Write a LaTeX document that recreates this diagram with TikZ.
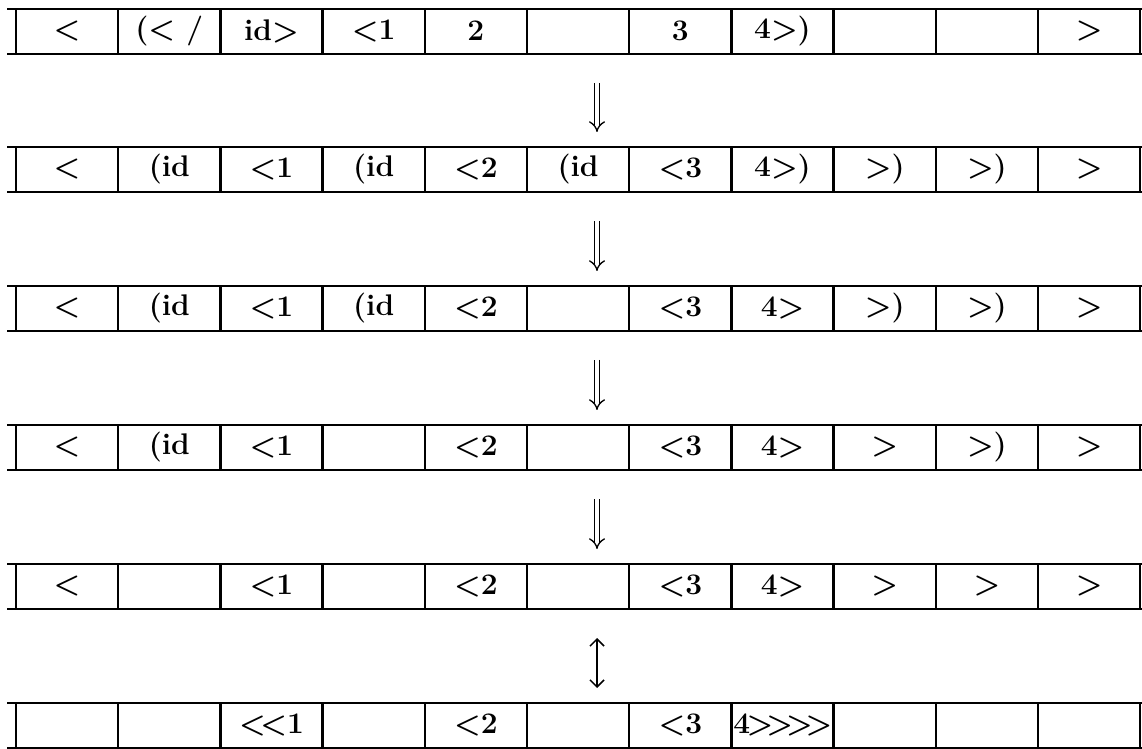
\documentclass[tikz,border=0pt]{standalone}
\usepackage{tikz}
\usetikzlibrary{arrows.meta}

\begin{document}
\begin{tikzpicture}[x=0.02cm, y=-0.02cm,
  cell/.style={font=\fontsize{17}{20}\selectfont\bfseries, inner sep=0pt},
  rule/.style={line width=1.3pt},
  stepline/.style={double, double distance=2.4pt, line width=0.75pt, -{Implies}},
  swapline/.style={line width=0.9pt, {Straight Barb[length=4pt]}-{Straight Barb[length=4pt]}}]
\useasboundingbox (0,0) rectangle (1142,749);

% the six tapes
\foreach \r/\y in {1/9, 2/147, 3/286, 4/425, 5/564, 6/703} {
  \draw[rule] (7,\y) -- (1142,\y) (7,\y+45) -- (1142,\y+45);
  \foreach \k in {0,...,11}
    \draw[rule] (16+102.2*\k,\y) -- ++(0,45);
  \coordinate (top\r) at (597,\y-15);
  \coordinate (bot\r) at (597,\y+74);
}

% contents of the cells
\foreach \t [count=\k] in {{<},{(< /},{id>},{<1},{2},{},{3},{4>)},{},{},{>}}
  \node[cell] (r1c\k) at (16+102.2*\k-51.1,31) {\t};
\foreach \t [count=\k] in {{<},{(id},{<1},{(id},{<2},{(id},{<3},{4>)},{>)},{>)},{>}}
  \node[cell] (r2c\k) at (16+102.2*\k-51.1,169) {\t};
\foreach \t [count=\k] in {{<},{(id},{<1},{(id},{<2},{},{<3},{4>},{>)},{>)},{>}}
  \node[cell] (r3c\k) at (16+102.2*\k-51.1,308) {\t};
\foreach \t [count=\k] in {{<},{(id},{<1},{},{<2},{},{<3},{4>},{>},{>)},{>}}
  \node[cell] (r4c\k) at (16+102.2*\k-51.1,447) {\t};
\foreach \t [count=\k] in {{<},{},{<1},{},{<2},{},{<3},{4>},{>},{>},{>}}
  \node[cell] (r5c\k) at (16+102.2*\k-51.1,586) {\t};
\foreach \t [count=\k] in {{},{},{<\kern-3pt<1},{},{<2},{},{<3}}
  \node[cell] (r6c\k) at (16+102.2*\k-51.1,725) {\t};
\node[cell, anchor=west] (r6c8) at (733,725) {4\kern-2pt>\kern-4pt>\kern-4pt>\kern-4pt>};

% steps between the tapes
\draw[stepline] (bot1) -- (top2);
\draw[stepline] (bot2) -- (top3);
\draw[stepline] (bot3) -- (top4);
\draw[stepline] (bot4) -- (top5);
\draw[swapline] (bot5) -- (top6);
\end{tikzpicture}
\end{document}
